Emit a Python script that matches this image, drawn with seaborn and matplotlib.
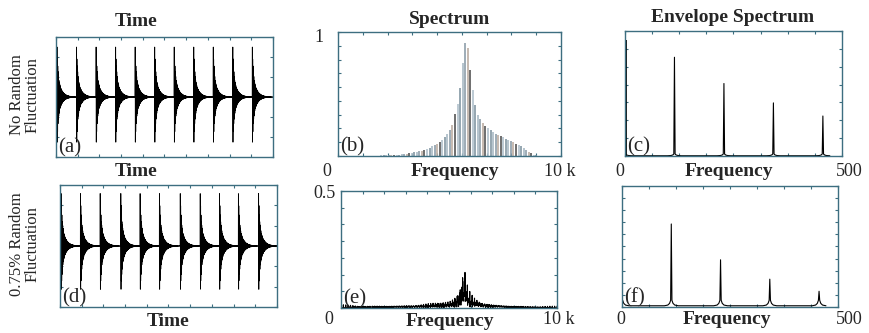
import numpy as np
import pandas as pd
import seaborn as sns
import matplotlib.pyplot as plt

# impulse arrival times (ms) (a) and (d)
times_regular = [0.45, 9.45, 18.45, 27.45, 36.45, 45.45, 54.45, 63.45, 72.45, 81.45, 90.45]
times_jitter = [0.5, 9.4, 18.5, 28.0, 36.9, 45.8, 55.4, 64.6, 73.5, 82.2, 91.5]
carrier_hz = 5700
decay_ms = [0.4, 1.7]       # fast / slow part of each impulse
decay_amp = [0.55, 0.45]
fs = 50000
window_ms = 100

# spectrum (b): line heights at harmonics k = 1..80 of the fault frequency
fault_hz = 114
spec_b = [0.002] * 12 + [
    0.003, 0.003, 0.004, 0.004, 0.005, 0.005, 0.006, 0.007, 0.008, 0.009,
    0.010, 0.012, 0.013, 0.016, 0.018, 0.021, 0.024, 0.029, 0.033, 0.038,
    0.044, 0.051, 0.058, 0.067, 0.077, 0.088, 0.100, 0.113, 0.130, 0.150,
    0.175, 0.210, 0.250, 0.340, 0.420, 0.550, 0.750, 0.915, 0.870, 0.690,
    0.530, 0.410, 0.330, 0.300, 0.265, 0.240, 0.225, 0.210, 0.195, 0.180,
    0.170, 0.160, 0.150, 0.140, 0.130, 0.120, 0.110, 0.100, 0.090, 0.078,
    0.065, 0.050, 0.035, 0.022, 0.012, 0.006, 0.003, 0.0]
peak_e = 0.152

# envelope spectra (c) and (f)
env_freq = [0, 114, 228, 342, 456]
env_c = [0.93, 0.79, 0.58, 0.425, 0.32]
env_f = [0.0, 0.686, 0.39, 0.23, 0.13]
skirt_off = [-16, -8, -4, -1.5, 0, 1.5, 4, 8, 16]
skirt_c = [0.002, 0.004, 0.008, 0.016, None, 0.016, 0.008, 0.004, 0.002]
skirt_f = [0.010, 0.016, 0.030, 0.055, None, 0.055, 0.030, 0.016, 0.010]


def make_signal(times):
    t = np.arange(0, window_ms, 1000.0 / fs)
    x = np.zeros_like(t)
    for t0 in times:
        d = t - t0
        m = d >= 0
        env = sum(a * np.exp(-d[m] / tau) for a, tau in zip(decay_amp, decay_ms))
        x[m] += env * np.sin(2 * np.pi * carrier_hz * d[m] / 1000.0)
    return t, x


def env_line(peaks, skirt):
    f, a = [], []
    for fr, pk in zip(env_freq, peaks):
        for off, s in zip(skirt_off, skirt):
            if fr + off < 0:
                continue
            f.append(fr + off)
            a.append(pk if s is None else s)
    return pd.DataFrame({"f": f, "a": a})


sns.set_theme(style="white")
plt.rcParams['font.family'] = ['Liberation Serif', 'DejaVu Serif']
spine_col = '#3d6e80'

fig = plt.figure(figsize=(8.69, 3.33), dpi=100)
ax_a = fig.add_axes([0.0644, 0.5285, 0.2497, 0.3604])
ax_d = fig.add_axes([0.0690, 0.0781, 0.2497, 0.3664])
ax_b = fig.add_axes([0.3890, 0.5315, 0.2566, 0.3724])
ax_e = fig.add_axes([0.3924, 0.0751, 0.2486, 0.3514])
ax_c = fig.add_axes([0.7192, 0.5315, 0.2497, 0.3754])
ax_f = fig.add_axes([0.7158, 0.0781, 0.2486, 0.3634])

# time signals
t, xa = make_signal(times_regular)
t, xd = make_signal(times_jitter)
sns.lineplot(x=t, y=xa, ax=ax_a, color='black', linewidth=0.6)
sns.lineplot(x=t, y=xd, ax=ax_d, color='black', linewidth=0.6)
for ax in (ax_a, ax_d):
    ax.set_xlim(0, window_ms)
    ax.set_ylim(-1.08, 1.08)
    ax.set_xticks(np.linspace(0, window_ms, 11))
    ax.set_yticks(np.linspace(-1.08, 1.08, 7))

# spectrum (b)
fb = fault_hz * np.arange(1, len(spec_b) + 1)
bar_cols = ['#a9bac5', '#8d9eaa', '#bcaea3', '#555555', '#b1c1cc', '#8397a3']
ax_b.vlines(fb, 0, spec_b, colors=[bar_cols[i % len(bar_cols)] for i in range(len(fb))],
            linewidth=1.2)
ax_b.set_xlim(0, 10000)
ax_b.set_ylim(0, 1)
ax_b.set_xticks(np.linspace(0, 10000, 10))
ax_b.set_yticks(np.linspace(0, 1, 10))

# spectrum (e) from the jittered signal
X = np.abs(np.fft.rfft(xd))
fe = np.fft.rfftfreq(len(xd), 1.0 / fs)
sel = fe <= 10000
X = X[sel] / X[sel].max() * peak_e
sns.lineplot(x=fe[sel], y=X, ax=ax_e, color='black', linewidth=0.8)
ax_e.set_xlim(0, 10000)
ax_e.set_ylim(0, 0.5)
ax_e.set_xticks(np.linspace(0, 10000, 11))
ax_e.set_yticks(np.linspace(0, 0.5, 8))

# envelope spectra
dc = env_line(env_c, skirt_c)
sns.lineplot(data=dc, x="f", y="a", ax=ax_c, color='black', linewidth=0.8, sort=False)
ax_c.vlines([1.2], 0, [env_c[0]], colors='black', linewidth=1.3)
df_ = env_line(env_f, skirt_f)
sns.lineplot(data=df_, x="f", y="a", ax=ax_f, color='black', linewidth=0.8, sort=False)
for ax, nx, ny in ((ax_c, 8, 7), (ax_f, 8, 10)):
    ax.set_xlim(0, 500)
    ax.set_ylim(0, 1)
    ax.set_xticks(np.linspace(0, 500, nx + 1))
    ax.set_yticks(np.linspace(0, 1, ny + 1))

for ax, lab in zip((ax_a, ax_b, ax_c, ax_d, ax_e, ax_f), 'abcdef'):
    ax.tick_params(direction='in', length=2.5, width=0.8, color=spine_col,
                   top=True, right=True, bottom=True, left=True,
                   labelbottom=False, labelleft=False)
    for s in ax.spines.values():
        s.set_color(spine_col)
        s.set_linewidth(1.0)
    ax.set_xlabel('')
    ax.set_ylabel('')
    ax.text(0.008, 0.0, '(%s)' % lab, transform=ax.transAxes, fontsize=15,
            ha='left', va='bottom')

bold = dict(fontsize=14, fontweight='bold', ha='center', va='center')
num = dict(fontsize=13, va='center')

def px(x, y):
    return x / 869.0, 1 - y / 333.0

fig.text(*px(136, 22), 'Time', **bold)
fig.text(*px(450, 20), 'Spectrum', **bold)
fig.text(*px(733, 18), 'Envelope Spectrum', **bold)

fig.text(*px(136, 171), 'Time', **bold)
fig.text(*px(455, 172), 'Frequency', **bold)
fig.text(*px(729, 172), 'Frequency', **bold)
fig.text(*px(168, 321), 'Time', **bold)
fig.text(*px(450, 322), 'Frequency', **bold)
fig.text(*px(727, 320), 'Frequency', **bold)

fig.text(*px(327, 171), '0', ha='center', **num)
fig.text(*px(560, 171), '10 k', ha='center', **num)
fig.text(*px(620, 171), '0', ha='center', **num)
fig.text(*px(849, 171), '500', ha='center', **num)
fig.text(*px(329, 320), '0', ha='center', **num)
fig.text(*px(559, 320), '10 k', ha='center', **num)
fig.text(*px(621, 320), '0', ha='center', **num)
fig.text(*px(849, 320), '500', ha='center', **num)
fig.text(*px(319, 37), '1', ha='center', **num)
fig.text(*px(325, 193), '0.5', ha='center', **num)

fig.text(*px(25, 95), 'No Random\nFluctuation', fontsize=12, rotation=90,
         ha='center', va='center', linespacing=1.0)
fig.text(*px(25, 244), '0.75% Random\nFluctuation', fontsize=12, rotation=90,
         ha='center', va='center', linespacing=1.0)

fig.savefig('out.png', dpi=100)
